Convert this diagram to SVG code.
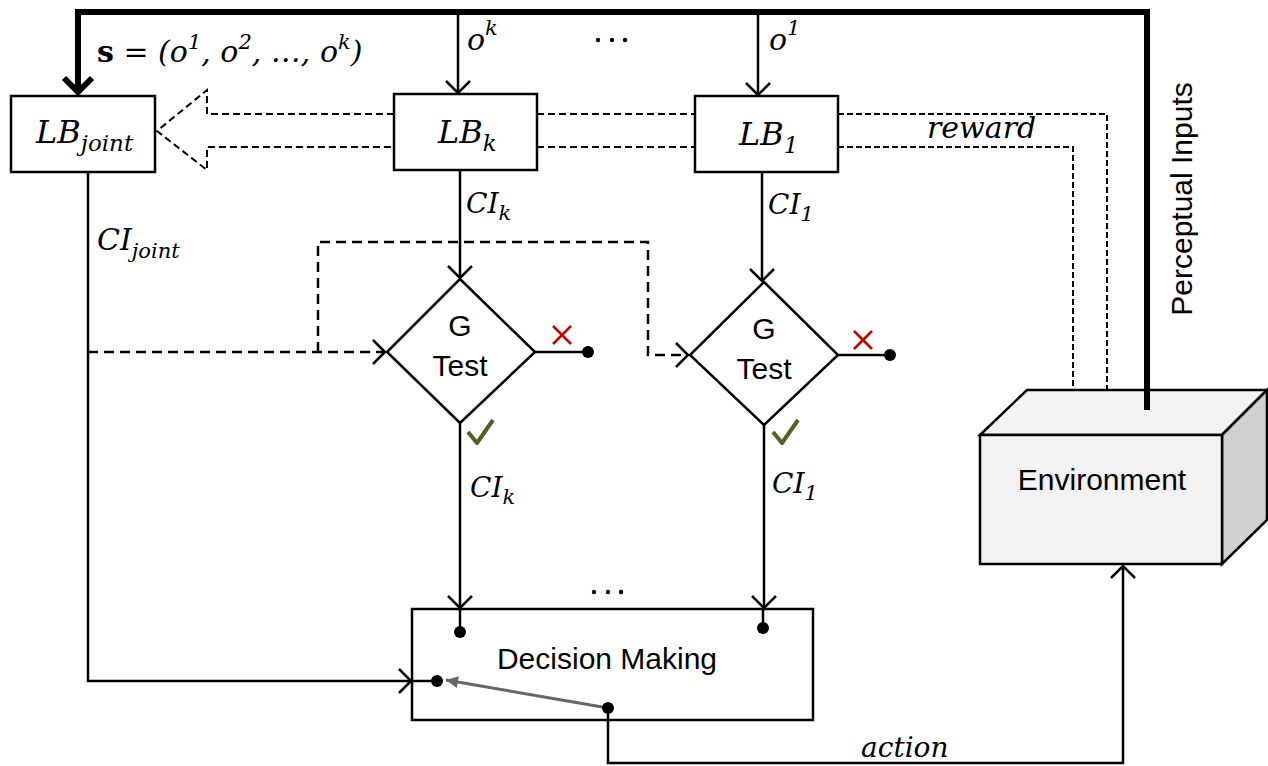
<svg xmlns="http://www.w3.org/2000/svg" width="1268" height="766" viewBox="0 0 1268 766">
<style>
.box{fill:#fff;stroke:#000;stroke-width:2.5}
.ln{fill:none;stroke:#000;stroke-width:2.5}
.thick{fill:none;stroke:#000;stroke-width:6}
.dash{fill:none;stroke:#000;stroke-width:2.5;stroke-dasharray:10 6}
.dash2{fill:none;stroke:#000;stroke-width:2;stroke-dasharray:7 4}
.dash3{fill:none;stroke:#000;stroke-width:2;stroke-dasharray:6 3}
.m{font-family:"DejaVu Serif","Liberation Serif",serif;font-style:italic;font-size:28px;fill:#000}
.m30{font-size:30px}
.m32{font-size:32px}
.sub{font-size:21px}
.sub23{font-size:23px}
.t{font-family:"Liberation Sans",Arial,sans-serif;font-size:30px;fill:#000}
.dot{fill:#000}
</style>
<defs>
<marker id="open" markerUnits="userSpaceOnUse" markerWidth="30" markerHeight="30" refX="15" refY="15" orient="auto" viewBox="0 0 30 30">
<path d="M3,3 L15,15 L3,27" fill="none" stroke="#000" stroke-width="2.5"/>
</marker>
<marker id="thickhead" markerUnits="userSpaceOnUse" markerWidth="40" markerHeight="40" refX="20" refY="20" orient="auto" viewBox="0 0 40 40">
<path d="M6,6 L20,20 L6,34" fill="none" stroke="#000" stroke-width="6"/>
</marker>
<marker id="gray" markerUnits="userSpaceOnUse" markerWidth="20" markerHeight="20" refX="14" refY="10" orient="auto" viewBox="0 0 20 20">
<path d="M2,4 L14,10 L2,16 Z" fill="#666"/>
</marker>
</defs>

<g id="environment">
<polygon points="980,435 1027,390 1267,390 1222,435" fill="#f2f2f2" stroke="#000" stroke-width="2.5"/>
<polygon points="1222,435 1267,390 1267,520 1222,564" fill="#d0d0d0" stroke="#000" stroke-width="2.5"/>
<rect x="980" y="435" width="242" height="129" fill="#f2f2f2" stroke="#000" stroke-width="2.5"/>
<text class="t" x="1102" y="490" text-anchor="middle">Environment</text>
</g>

<g id="lb-joint">
<rect class="box" x="11" y="96" width="144" height="76"/>
<text class="m m32" x="36" y="143">LB<tspan class="sub23" dy="8">joint</tspan></text>
</g>

<g id="lb-k">
<rect class="box" x="394" y="94" width="143" height="76"/>
<text class="m m32" x="438" y="143">LB<tspan class="sub23" dy="8">k</tspan></text>
</g>

<g id="lb-1">
<rect class="box" x="695" y="96" width="143" height="76"/>
<text class="m m32" x="739" y="145">LB<tspan class="sub23" dy="8">1</tspan></text>
</g>

<g id="gtest-k">
<polygon class="box" points="460,279 535,352 460,423 387,352"/>
<text class="t" x="460" y="336" text-anchor="middle">G</text>
<text class="t" x="460" y="376" text-anchor="middle">Test</text>
</g>

<g id="gtest-1">
<polygon class="box" points="764,282 838,355 764,425 690,355"/>
<text class="t" x="764" y="339" text-anchor="middle">G</text>
<text class="t" x="764" y="379" text-anchor="middle">Test</text>
</g>

<g id="decision-making">
<rect class="box" x="412" y="609" width="401" height="111"/>
<text class="t" x="607" y="669" text-anchor="middle">Decision Making</text>
</g>

<g id="connectors">
<path class="thick" d="M1147,410 V12 H78 V92" marker-end="url(#thickhead)"/>
<path class="ln" d="M458,12 V93" marker-end="url(#open)"/>
<path class="ln" d="M758,12 V95" marker-end="url(#open)"/>
<path class="ln" d="M460,170 V278" marker-end="url(#open)"/>
<path class="ln" d="M762,172 V281" marker-end="url(#open)"/>
<path class="ln" d="M460,423 V608" marker-end="url(#open)"/>
<path class="ln" d="M764,425 V608" marker-end="url(#open)"/>
<path class="ln" d="M460,609 V632"/>
<path class="ln" d="M763,609 V628"/>
<path class="ln" d="M88,172 V681 H411" marker-end="url(#open)"/>
<path class="ln" d="M412,681 H437"/>
<path fill="none" stroke="#666" stroke-width="3" d="M608,708 L446,680" marker-end="url(#gray)"/>
<path class="ln" d="M608,708 V763 H1123 V566" marker-end="url(#open)"/>
<path class="dash" d="M88,352 H385" marker-end="url(#open)"/>
<path class="dash" d="M318,352 V242 H648 V355 H688" marker-end="url(#open)"/>
<path class="dash2" d="M394,114 H207 V90 L157,131 L207,170 V147 H394"/>
<path class="dash2" d="M537,114 H695 M537,147 H695"/>
<path class="dash3" d="M838,114 H1107 V390 M838,147 H1073 V390"/>
<path class="ln" d="M535,352 H588 M838,355 H890"/>
<circle class="dot" cx="588" cy="352" r="6"/>
<circle class="dot" cx="890" cy="355" r="6"/>
<circle class="dot" cx="460" cy="632" r="6"/>
<circle class="dot" cx="763" cy="628" r="6"/>
<circle class="dot" cx="437" cy="681" r="6"/>
<circle class="dot" cx="608" cy="708" r="6"/>
<path d="M553,326 L571,344 M571,326 L553,344" stroke="#c00000" stroke-width="2.5" fill="none"/>
<path d="M854,331 L872,349 M872,331 L854,349" stroke="#c00000" stroke-width="2.5" fill="none"/>
<path d="M468,432 L477,443 L493,420" stroke="#4f6228" stroke-width="4" fill="none" stroke-linejoin="round"/>
<path d="M773,432 L782,443 L798,420" stroke="#4f6228" stroke-width="4" fill="none" stroke-linejoin="round"/>
</g>

<g id="labels">
<text class="m m30" x="97" y="62"><tspan font-weight="bold" style="font-style:normal">s</tspan> = (o<tspan class="sub" dy="-13">1</tspan><tspan dy="13">, o</tspan><tspan class="sub" dy="-13">2</tspan><tspan dy="13">, …, o</tspan><tspan class="sub" dy="-13">k</tspan><tspan dy="13">)</tspan></text>
<text class="m m30" x="467" y="50">o<tspan class="sub" dy="-15">k</tspan></text>
<text class="m m30" x="769" y="50">o<tspan class="sub" dy="-15">1</tspan></text>
<circle cx="598" cy="40" r="2.2"/><circle cx="612" cy="40" r="2.2"/><circle cx="625" cy="40" r="2.2"/>
<circle cx="594" cy="592" r="2.2"/><circle cx="608" cy="592" r="2.2"/><circle cx="621" cy="592" r="2.2"/>
<text class="m" x="466" y="213">CI<tspan class="sub" dy="7">k</tspan></text>
<text class="m" x="768" y="214">CI<tspan class="sub" dy="7">1</tspan></text>
<text class="m m30" x="97" y="250">CI<tspan class="sub" dy="8">joint</tspan></text>
<text class="m" x="470" y="497">CI<tspan class="sub" dy="7">k</tspan></text>
<text class="m" x="772" y="493">CI<tspan class="sub" dy="7">1</tspan></text>
<text class="m m30" x="927" y="138">reward</text>
<text class="m" x="861" y="757">action</text>
<text class="t" transform="translate(1192,199) rotate(-90)" text-anchor="middle">Perceptual Inputs</text>
</g>
</svg>
